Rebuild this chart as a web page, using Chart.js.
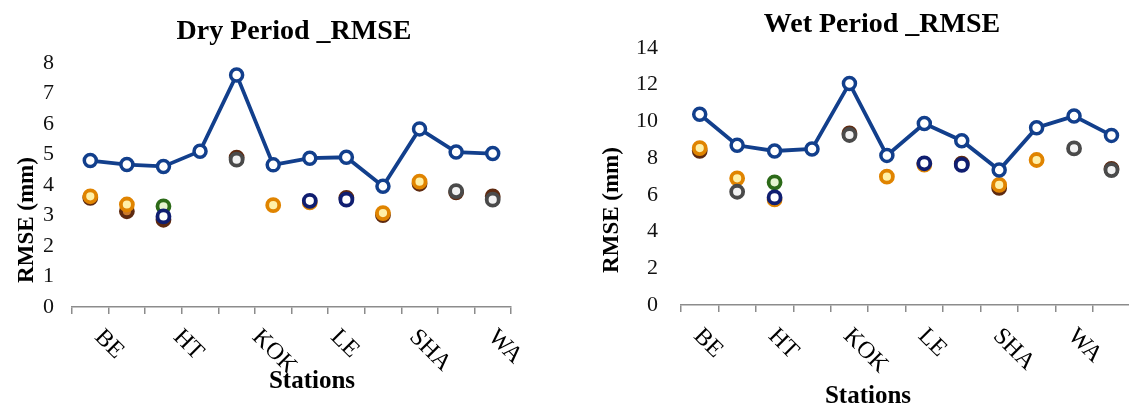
<!DOCTYPE html>
<html>
<head>
<meta charset="utf-8">
<script src="https://cdn.jsdelivr.net/npm/chart.js@4.4.0/dist/chart.umd.min.js"></script>
<style>
  html, body { margin: 0; padding: 0; background: #fff; overflow: hidden; width: 1129px; height: 408px; }
  canvas { position: absolute; top: 0; }
  #dry { left: 0; }
  #wet { left: 580px; }
</style>
</head>
<body>
<canvas id="dry" width="560" height="408"></canvas>
<canvas id="wet" width="560" height="408"></canvas>
<script>
// stations (only every other name is printed on the axis)
const stations = ['BE', '', 'HT', '', 'KOK', '', 'LE', '', 'SHA', '', 'WA', ''];
const xTitle = 'Stations';
const yTitle = 'RMSE (mm)';

// Dry period RMSE (mm)
const dryLine   = [4.80, 4.67, 4.61, 5.11, 7.61, 4.66, 4.88, 4.91, 3.96, 5.84, 5.08, 5.03];
const dryOrange = [3.63, 3.36, null, null, null, 3.34, 3.43, null, 3.08, 4.11, null, null];
const dryBrown  = [3.58, 3.14, 2.86, null, 4.90, null, null, 3.58, 3.01, 4.04, 3.76, 3.63];
const dryGreen  = [null, null, 3.30, null, null, null, null, null, null, null, null, null];
const dryNavy   = [null, null, 2.97, null, null, null, 3.48, 3.52, null, null, null, null];
const dryGray   = [null, null, null, null, 4.83, null, null, null, null, null, 3.80, 3.52];
const dryTicks  = { max: 8, step: 1 };

// Wet period RMSE (mm)
const wetLine   = [10.39, 8.70, 8.39, 8.50, 12.07, 8.15, 9.89, 8.95, 7.35, 9.66, 10.29, 9.24];
const wetOrange = [8.55, 6.90, 5.75, null, null, 6.99, 7.65, null, 6.54, 7.90, null, null];
const wetBrown  = [8.40, null, null, null, 9.35, null, null, 7.70, 6.38, null, null, 7.42];
const wetGreen  = [null, null, 6.68, null, null, null, null, null, null, null, null, null];
const wetNavy   = [null, null, 5.86, null, null, null, 7.72, 7.63, null, null, null, null];
const wetGray   = [null, 6.17, null, null, 9.26, null, null, null, null, null, 8.53, 7.35];
const wetTicks  = { max: 14, step: 2 };

Chart.defaults.font.family = '"Liberation Serif", "Times New Roman", serif';
Chart.defaults.color = '#000';

const FONT = '"Liberation Serif", "Times New Roman", serif';

function dots(data, border, fill) {
  return {
    data, showLine: false,
    borderColor: border, backgroundColor: fill,
    pointRadius: 6, pointBorderWidth: 3.8,
    pointBorderColor: border, pointBackgroundColor: fill
  };
}

function datasets(line, orange, brown, green, navy, gray) {
  return [
    {
      data: line, borderColor: '#123f8c', borderWidth: 3.8,
      pointRadius: 6, pointBorderWidth: 3.5,
      pointBorderColor: '#123f8c', pointBackgroundColor: '#fff'
    },
    dots(gray, '#4a4a4a', '#f2f2f2'),
    dots(navy, '#101e70', '#ffffff'),
    dots(orange, '#e08400', '#fff0a8'),
    dots(green, '#2c6a18', '#e6f4d0'),
    dots(brown, '#5e2a10', '#c9782a')
  ];
}

const textPlugin = {
  id: 'panelTexts',
  afterDraw(chart, args, o) {
    const { ctx } = chart;
    const x = chart.scales.x;
    ctx.save();
    ctx.fillStyle = '#000';
    ctx.textAlign = 'center';
    ctx.textBaseline = 'middle';
    ctx.font = 'bold 28px ' + FONT;
    ctx.fillText(o.title, o.titleX, o.titleY);
    ctx.font = 'bold 25px ' + FONT;
    ctx.fillText(xTitle, o.xTitleX, o.xTitleY);
    ctx.save();
    ctx.translate(o.yTitleX, o.yTitleY);
    ctx.rotate(-Math.PI / 2);
    ctx.font = 'bold 23px ' + FONT;
    ctx.fillText(yTitle, 0, 0);
    ctx.restore();

    // slanted station names
    ctx.font = '24px ' + FONT;
    ctx.textAlign = 'left';
    ctx.textBaseline = 'alphabetic';
    stations.forEach((s, i) => {
      if (!s) return;
      const px = x.getPixelForValue(i);
      const ax = x.left + o.stretch * (px - x.left) + o.dx;
      ctx.save();
      ctx.translate(ax, x.top + o.dy);
      ctx.rotate(Math.PI / 4);
      ctx.fillText(s, 0, 0);
      ctx.restore();
    });
    ctx.restore();
  }
};

function makeChart(id, sets, ticks, box, texts) {
  new Chart(document.getElementById(id), {
    type: 'line',
    data: { labels: stations, datasets: sets },
    options: {
      responsive: false,
      animation: false,
      devicePixelRatio: 1,
      layout: { padding: { left: 0, right: box.right, top: box.top, bottom: 0 } },
      plugins: {
        legend: { display: false },
        title: { display: false },
        tooltip: { enabled: false },
        panelTexts: texts
      },
      scales: {
        x: {
          offset: true,
          grid: { offset: true, drawOnChartArea: false, drawTicks: true, tickLength: 7, color: '#8c8c8c', lineWidth: 1.5 },
          border: { display: true, color: '#8c8c8c', width: 1.5 },
          ticks: { display: false },
          afterFit: s => { s.height = box.xH; }
        },
        y: {
          min: 0, max: ticks.max,
          grid: { display: false, drawTicks: false },
          border: { display: false },
          ticks: { stepSize: ticks.step, padding: box.tickPad, font: { size: 22 }, color: '#111' },
          afterFit: s => { s.width = box.yW; }
        }
      }
    },
    plugins: [textPlugin]
  });
}

makeChart('dry',
  datasets(dryLine, dryOrange, dryBrown, dryGreen, dryNavy, dryGray),
  dryTicks,
  { right: 49, top: 63, xH: 101, yW: 72, tickPad: 18 },
  { title: 'Dry Period _RMSE', titleX: 294, titleY: 32,
    xTitleX: 312, xTitleY: 382, yTitleX: 27, yTitleY: 220,
    stretch: 1.076, dx: 2, dy: 31 });

makeChart('wet',
  datasets(wetLine, wetOrange, wetBrown, wetGreen, wetNavy, wetGray),
  wetTicks,
  { right: 2, top: 48, xH: 103, yW: 101, tickPad: 23 },
  { title: 'Wet Period _RMSE', titleX: 302, titleY: 25,
    xTitleX: 288, xTitleY: 397, yTitleX: 32, yTitleY: 210,
    stretch: 1, dx: -7, dy: 32 });
</script>
</body>
</html>
